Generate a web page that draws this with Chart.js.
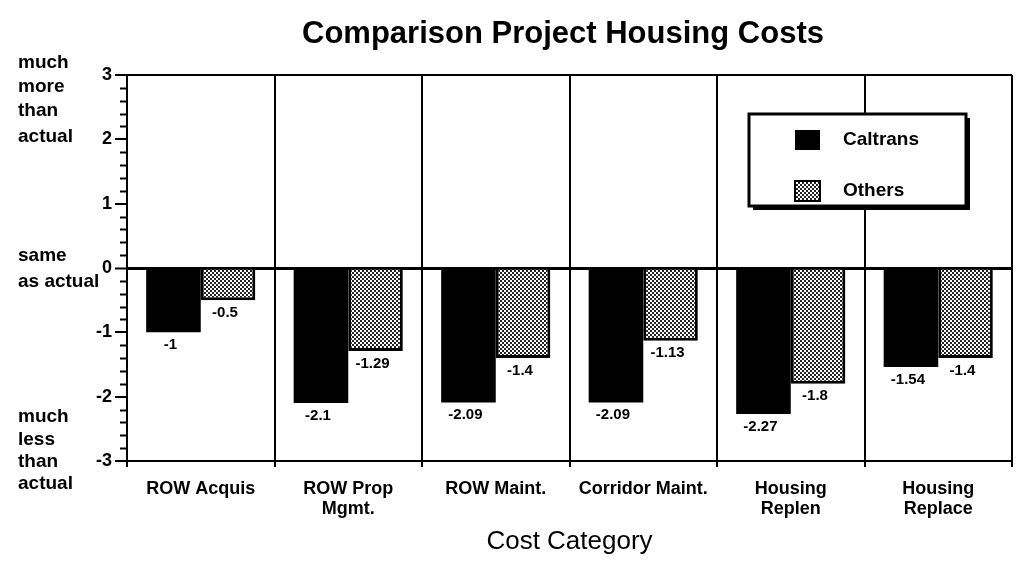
<!DOCTYPE html>
<html>
<head>
<meta charset="utf-8">
<script src="https://cdn.jsdelivr.net/npm/chart.js@4.4.1/dist/chart.umd.min.js"></script>
<style>
  html, body { margin: 0; padding: 0; background: #fff; }
  #wrap { width: 1017px; height: 579px; }
</style>
</head>
<body>
<div id="wrap"><canvas id="myChart" width="1017" height="579"></canvas></div>
<script>
// data
const categories = [
    ["ROW Acquis"],
    ["ROW Prop", "Mgmt."],
    ["ROW Maint."],
    ["Corridor Maint."],
    ["Housing", "Replen"],
    ["Housing", "Replace"],
];
const caltrans = [-1, -2.1, -2.09, -2.09, -2.27, -1.54];
const others = [-0.5, -1.29, -1.4, -1.13, -1.8, -1.4];
const yTicks = [-3, -2, -1, 0, 1, 2, 3];

const FONT = '"Liberation Sans", Arial, Helvetica, sans-serif';

// dithered grey fill like the scan
function makePattern() {
    const c = document.createElement("canvas");
    c.width = 4;
    c.height = 4;
    const g = c.getContext("2d");
    g.fillStyle = "#fff";
    g.fillRect(0, 0, 4, 4);
    g.fillStyle = "#222";
    g.fillRect(0, 0, 2, 2);
    g.fillRect(2, 2, 2, 2);
    return g.createPattern(c, "repeat");
}
const othersFill = makePattern();

const isInt = (v) => Math.abs(v - Math.round(v)) < 1e-6;

const extras = {
    id: "extras",
    beforeDraw(chart) {
        const ctx = chart.ctx;
        ctx.save();
        ctx.fillStyle = "#fff";
        ctx.fillRect(0, 0, chart.width, chart.height);
        ctx.restore();
    },
    afterDraw(chart) {
        const ctx = chart.ctx;
        const y = chart.scales.y;
        const area = chart.chartArea;
        ctx.save();
        ctx.fillStyle = "#000";
        ctx.strokeStyle = "#000";

        // title
        ctx.font = "bold 31px " + FONT;
        ctx.textAlign = "center";
        ctx.textBaseline = "alphabetic";
        ctx.fillText("Comparison Project Housing Costs", 563, 43);

        // left side captions
        ctx.font = "bold 19px " + FONT;
        ctx.textAlign = "left";
        ctx.textBaseline = "middle";
        [["much", 63], ["more", 87], ["than", 111], ["actual", 137],
         ["same", 256], ["as actual", 282],
         ["much", 417], ["less", 440], ["than", 462], ["actual", 484]]
            .forEach(([t, ty]) => ctx.fillText(t, 18, ty));

        // minor ticks every 0.2
        ctx.lineWidth = 2;
        for (let i = -15; i <= 15; i++) {
            const v = i / 5;
            if (isInt(v)) continue;
            const py = Math.round(y.getPixelForValue(v)) + 0.5;
            ctx.beginPath();
            ctx.moveTo(area.left - 7, py);
            ctx.lineTo(area.left, py);
            ctx.stroke();
        }

        // value labels under the bars
        ctx.font = "bold 15px " + FONT;
        ctx.textAlign = "center";
        ctx.textBaseline = "top";
        chart.data.datasets.forEach((ds, di) => {
            const meta = chart.getDatasetMeta(di);
            meta.data.forEach((bar, i) => {
                ctx.fillText(String(ds.data[i]), bar.x - 3, bar.y + 5);
            });
        });

        // legend box
        const bx = 749, by = 114, bw = 217, bh = 92;
        ctx.fillStyle = "#fff";
        ctx.fillRect(bx, by, bw, bh);
        ctx.fillStyle = "#000";
        ctx.fillRect(bx + 4, by + bh, bw, 4);
        ctx.fillRect(bx + bw, by + 4, 4, bh);
        ctx.lineWidth = 3;
        ctx.strokeRect(bx, by, bw, bh);
        ctx.font = "bold 19px " + FONT;
        ctx.textAlign = "left";
        ctx.textBaseline = "middle";
        chart.data.datasets.forEach((ds, di) => {
            const sy = di === 0 ? 130 : 181;
            ctx.fillStyle = ds.backgroundColor;
            ctx.fillRect(795, sy, 25, 20);
            if (di > 0) {
                ctx.lineWidth = 2;
                ctx.strokeRect(795, sy, 25, 20);
            }
            ctx.fillStyle = "#000";
            ctx.fillText(ds.label, 843, sy + 10);
        });
        ctx.restore();
    },
};

new Chart(document.getElementById("myChart"), {
    type: "bar",
    data: {
        labels: categories,
        datasets: [
            {
                label: "Caltrans",
                data: caltrans,
                backgroundColor: "#000",
                borderWidth: 0,
            },
            {
                label: "Others",
                data: others,
                backgroundColor: othersFill,
                borderColor: "#000",
                borderWidth: 3,
                borderSkipped: "start",
            },
        ],
    },
    options: {
        responsive: false,
        animation: false,
        layout: { padding: { top: 75, right: 5, left: 0, bottom: 0 } },
        datasets: {
            bar: { categoryPercentage: 0.74, barPercentage: 1.0 },
        },
        plugins: {
            legend: { display: false },
            title: { display: false },
            tooltip: { enabled: false },
        },
        scales: {
            x: {
                grid: {
                    offset: true,
                    color: "#000",
                    lineWidth: 2,
                    tickLength: 6,
                },
                border: { color: "#000", width: 2 },
                ticks: {
                    color: "#000",
                    font: { family: FONT, size: 18, weight: "bold", lineHeight: 1.1 },
                    padding: 12,
                    maxRotation: 0,
                    autoSkip: false,
                },
                title: {
                    display: true,
                    text: "Cost Category",
                    color: "#000",
                    font: { family: FONT, size: 26 },
                    padding: { top: 0, bottom: 22 },
                },
                afterFit(scale) {
                    scale.height = 118;
                },
            },
            y: {
                min: -3,
                max: 3,
                afterBuildTicks(scale) {
                    scale.ticks = yTicks.map((v) => ({ value: v }));
                },
                grid: {
                    color: (c) => (c.tick && (c.tick.value === 0 || c.tick.value === 3) ? "#000" : "rgba(0,0,0,0)"),
                    lineWidth: (c) => (c.tick && c.tick.value === 0 ? 3 : 2),
                    tickColor: "#000",
                    tickLength: 12,
                    tickWidth: 2,
                },
                border: { color: "#000", width: 2 },
                ticks: {
                    color: "#000",
                    font: { family: FONT, size: 18, weight: "bold" },
                    padding: 3,
                },
                afterFit(scale) {
                    scale.width = 127;
                },
            },
        },
    },
    plugins: [extras],
});
</script>
</body>
</html>
